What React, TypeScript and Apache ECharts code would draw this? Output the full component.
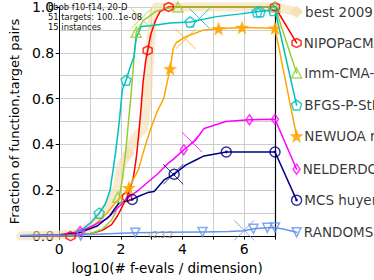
import React, { useEffect, useRef } from "react";
import * as echarts from "echarts";

type P = [number, number];

const xTickValues = [0, 2, 4, 6];
const yTickValues = [0.0, 0.2, 0.4, 0.6, 0.8, 1.0];

const names = ["best 2009", "NIPOPaCMA", "Imm-CMA-ES", "BFGS-P-StPt", "NEWUOA ros", "NELDERDOERR", "MCS huyer", "RANDOMSEARCH"];

// ECDF lines (x = log10(#f-evals/dim), y = fraction); last point = legend anchor
const best2009: P[] = [[-1.25, 0], [0, 0.005], [0.5, 0.01], [1.0, 0.04], [1.3, 0.08], [1.5, 0.12], [1.7, 0.16], [1.9, 0.22], [2.0, 0.3], [2.1, 0.33], [2.25, 0.36], [2.35, 0.4], [2.45, 0.43], [2.6, 0.45], [2.75, 0.47], [2.85, 0.6], [2.95, 0.8], [3.0, 0.9], [3.05, 0.97], [3.15, 1.0], [7, 1.0], [7.7, 0.979]];
const nipopacma: P[] = [[-1.25, 0], [0, 0.002], [0.5, 0.004], [1.0, 0.01], [1.4, 0.025], [1.7, 0.05], [1.9, 0.09], [2.05, 0.13], [2.2, 0.17], [2.4, 0.25], [2.5, 0.34], [2.57, 0.43], [2.65, 0.55], [2.72, 0.67], [2.8, 0.76], [2.87, 0.81], [2.97, 0.88], [3.12, 0.94], [3.27, 0.98], [3.55, 1.0], [7, 1.0], [7.7, 0.843]];
const immCma: P[] = [[-1.25, 0], [0, 0.003], [1.0, 0.01], [1.4, 0.03], [1.7, 0.07], [1.85, 0.11], [1.95, 0.17], [2.05, 0.25], [2.15, 0.36], [2.2, 0.43], [2.32, 0.6], [2.45, 0.81], [2.5, 0.89], [2.62, 0.915], [2.72, 0.94], [2.93, 0.96], [3.12, 0.98], [3.5, 0.995], [3.85, 1.0], [7, 1.0], [7.7, 0.712]];
const bfgs: P[] = [[-1.25, 0.003], [0, 0.006], [0.5, 0.015], [0.8, 0.035], [1.04, 0.06], [1.3, 0.1], [1.5, 0.14], [1.65, 0.2], [1.75, 0.29], [1.85, 0.385], [1.95, 0.5], [2.05, 0.64], [2.17, 0.68], [2.32, 0.745], [2.42, 0.78], [2.5, 0.865], [2.66, 0.915], [3.08, 0.92], [3.6, 0.93], [4.25, 0.935], [5.1, 0.958], [5.9, 0.97], [6.45, 0.98], [7, 0.987], [7.7, 0.572]];
const newuoa: P[] = [[-1.25, 0.002], [0, 0.006], [0.5, 0.012], [0.9, 0.03], [1.13, 0.047], [1.55, 0.1], [1.85, 0.15], [2.26, 0.21], [2.57, 0.29], [2.77, 0.385], [2.9, 0.44], [2.97, 0.47], [3.2, 0.55], [3.39, 0.6], [3.5, 0.67], [3.6, 0.73], [3.7, 0.82], [3.8, 0.845], [4.1, 0.87], [4.7, 0.9], [5.17, 0.905], [5.93, 0.91], [7, 0.907], [7.7, 0.436]];
const nelderdoerr: P[] = [[-1.25, 0], [0, 0.005], [0.68, 0.02], [1.0, 0.04], [1.55, 0.075], [1.95, 0.13], [2.26, 0.17], [2.57, 0.2], [3.18, 0.27], [3.55, 0.32], [3.7, 0.335], [4.04, 0.377], [4.4, 0.415], [4.7, 0.47], [5.4, 0.5], [6.17, 0.508], [7, 0.51], [7.7, 0.292]];
const mcs: P[] = [[-1.25, 0], [0, 0.004], [0.6, 0.012], [1.25, 0.045], [1.65, 0.09], [1.8, 0.12], [1.95, 0.145], [2.1, 0.15], [2.37, 0.16], [2.6, 0.175], [2.87, 0.19], [3.08, 0.195], [3.4, 0.245], [3.73, 0.27], [4.1, 0.31], [4.4, 0.33], [4.7, 0.35], [5.42, 0.367], [7, 0.367], [7.7, 0.157]];
const randomSearch: P[] = [[-1.25, 0.002], [0, 0.004], [1, 0.007], [2, 0.012], [2.47, 0.015], [3.5, 0.017], [4.65, 0.018], [5.5, 0.02], [6, 0.023], [6.3, 0.032], [6.75, 0.036], [7, 0.037], [7.3, 0.03], [7.7, 0.017]];

// marker positions
const best2009Marks: P[] = [[2.25, 0.36], [7.7, 0.979]];
const nipopacmaMarks: P[] = [[0.37, 0.0], [2.2, 0.17], [2.87, 0.81], [3.55, 1.0], [7, 1.0], [7.7, 0.843]];
const immCmaMarks: P[] = [[1.9, 0.17], [2.5, 0.89], [3.85, 1.0], [7, 1.0], [7.7, 0.712]];
const bfgsMarks: P[] = [[1.3, 0.1], [2.17, 0.68], [4.25, 0.935], [6.42, 0.978], [6.52, 0.979], [6.95, 0.985], [7.7, 0.572]];
const newuoaMarks: P[] = [[2.26, 0.21], [3.6, 0.73], [5.17, 0.905], [5.93, 0.91], [7, 0.907], [7.7, 0.436]];
const nelderdoerrMarks: P[] = [[0.68, 0.02], [4.04, 0.377], [6.17, 0.508], [7, 0.51], [7.7, 0.292]];
const mcsMarks: P[] = [[2.37, 0.16], [3.73, 0.27], [5.42, 0.367], [7, 0.367], [7.7, 0.157]];
const randomSearchMarks: P[] = [[0.7, 0.002], [2.47, 0.015], [4.65, 0.018], [6.3, 0.032], [6.75, 0.036], [7, 0.037], [7.7, 0.017]];

// median max-evaluation crosses
const crossMarks: (P | null)[] = [null, null, [2.66, 0.95], [4.55, 0.95], [4.1, 0.86], [4.31, 0.41], [3.7, 0.27], [6.0, 0.025]];

const colors = ["#f5deb3", "#ff0000", "#9acd32", "#00bfbf", "#ffa500", "#ff00ff", "#000080", "#6495ed"];
const lines = [best2009, nipopacma, immCma, bfgs, newuoa, nelderdoerr, mcs, randomSearch];
const marks = [best2009Marks, nipopacmaMarks, immCmaMarks, bfgsMarks, newuoaMarks, nelderdoerrMarks, mcsMarks, randomSearchMarks];

const HEX = "path://M0,-10L8.66,-5L8.66,5L0,10L-8.66,5L-8.66,-5Z";
const PENT = "path://M0,-10L9.51,-3.09L5.88,8.09L-5.88,8.09L-9.51,-3.09Z";
const STAR = "path://M0,-10L2.35,-3.24L9.51,-3.09L3.8,1.24L5.88,8.09L0,4L-5.88,8.09L-3.8,1.24L-9.51,-3.09L-2.35,-3.24Z";
const TRIDOWN = "path://M-10,-8.66L10,-8.66L0,8.66Z";
const CIRCDOT = "path://M10,0A10,10 0 1,1 -10,0A10,10 0 1,1 10,0ZM1.3,0A1.3,1.3 0 1,1 -1.3,0A1.3,1.3 0 1,1 1.3,0Z";
const CROSS = "path://M0,0L10,10M10,0L0,10";

const symbols: any[] = ["diamond", HEX, "triangle", PENT, STAR, "diamond", CIRCDOT, TRIDOWN];
const sizes: any[] = [[13, 13], 9, 10, 10, 10, [7, 10], 10, 9];
const filled = [true, false, false, false, true, false, false, false];

const FONT = "'DejaVu Sans', 'Liberation Sans', sans-serif";

function buildOption() {
  const series: any[] = [];
  lines.forEach((pts, i) => {
    const isBest = i === 0;
    series.push({
      type: "custom",
      name: names[i],
      coordinateSystem: "cartesian2d",
      clip: false,
      z: isBest ? 1 : 3 + i,
      silent: true,
      data: pts,
      encode: { x: 0, y: 1 },
      renderItem: (params: any, api: any) => {
        if (params.dataIndex !== 0) return null;
        return {
          type: "polyline",
          shape: { points: pts.map((p) => api.coord(p)) },
          style: {
            stroke: colors[i],
            lineWidth: isBest ? 9 : 1.5,
            fill: null,
            opacity: isBest ? 0.65 : 1,
            lineJoin: "round",
            lineCap: "round",
          },
        };
      },
    });
  });
  marks.forEach((pts, i) => {
    series.push({
      type: "scatter",
      name: names[i] + " markers",
      clip: false,
      z: i === 0 ? 2 : 20 + i,
      symbol: symbols[i],
      symbolSize: sizes[i],
      itemStyle: {
        color: filled[i] ? colors[i] : "rgba(0,0,0,0)",
        borderColor: colors[i],
        borderWidth: i === 0 ? 0 : 1.5,
      },
      data: pts.map((p, j) => ({
        value: p,
        label: j === pts.length - 1
          ? { show: true, position: "right", distance: 2, formatter: names[i], color: "#000", fontSize: 13.5, fontFamily: FONT }
          : { show: false },
      })),
      silent: true,
    });
  });
  crossMarks.forEach((p, i) => {
    if (!p) return;
    series.push({
      type: "scatter",
      name: names[i] + " cross",
      clip: false,
      z: 30,
      symbol: CROSS,
      symbolSize: 20,
      itemStyle: { color: "none", borderColor: colors[i], borderWidth: 1 },
      data: [p],
      silent: true,
    });
  });

  return {
    animation: false,
    backgroundColor: "#ffffff",
    textStyle: { fontFamily: FONT },
    grid: { left: 46, right: 99, top: 5, bottom: 39, containLabel: false },
    xAxis: {
      type: "value",
      min: 0,
      max: 7,
      interval: 1,
      name: "log10(# f-evals / dimension)",
      nameLocation: "middle",
      nameGap: 22,
      nameTextStyle: { fontSize: 13.5, fontFamily: FONT, color: "#000" },
      axisLine: { show: true, lineStyle: { color: "#000", width: 1 } },
      axisTick: { show: true, length: 3.5, lineStyle: { color: "#000" } },
      axisLabel: {
        fontSize: 14,
        fontFamily: FONT,
        color: "#000",
        margin: 6,
        formatter: (v: number) => (xTickValues.includes(v) ? String(v) : ""),
      },
      splitLine: { show: true, lineStyle: { color: "#cccccc", width: 1 } },
    },
    yAxis: [
      {
        type: "value",
        min: 0,
        max: 1,
        interval: 0.2,
        name: "Fraction of function,target pairs",
        nameLocation: "middle",
        nameGap: 27,
        nameTextStyle: { fontSize: 13, fontFamily: FONT, color: "#000" },
        axisLine: { show: true, lineStyle: { color: "#000", width: 1 } },
        axisTick: { show: true, length: 3.5, lineStyle: { color: "#000" } },
        axisLabel: {
          fontSize: 14,
          fontFamily: FONT,
          color: "#000",
          margin: 5,
          formatter: (v: number) => {
            const hit = yTickValues.find((t) => Math.abs(t - v) < 1e-9);
            return hit === undefined ? "" : hit.toFixed(1);
          },
        },
        splitLine: { show: true, lineStyle: { color: "#cccccc", width: 1 } },
        minorTick: { show: false, splitNumber: 2 },
        minorSplitLine: { show: true, lineStyle: { color: "#cccccc", width: 1 } },
      },
      {
        type: "value",
        min: 0,
        max: 1,
        position: "right",
        axisLine: { show: true, onZero: false, lineStyle: { color: "#000", width: 1.2 } },
        axisTick: { show: false },
        axisLabel: { show: false },
        splitLine: { show: false },
      },
    ],
    graphic: [
      {
        type: "text",
        left: 48,
        top: 2,
        z: 50,
        style: {
          text: "bbob f10-f14, 20-D\n51 targets: 100..1e-08\n15 instances",
          fontSize: 8.4,
          lineHeight: 10,
          fontFamily: FONT,
          fill: "#111",
        },
      },
      {
        type: "text",
        left: 148,
        top: 231,
        z: 50,
        style: { text: "v2.3.2", fontSize: 8, fontFamily: FONT, fill: "#999999" },
      },
    ],
    series,
  };
}

export default function App() {
  const ref = useRef<HTMLDivElement>(null);
  useEffect(() => {
    if (!ref.current) return;
    const chart = echarts.init(ref.current, null, { renderer: "svg" });
    chart.setOption(buildOption() as any);
    return () => chart.dispose();
  }, []);
  return (
    <div
      ref={ref}
      style={{ position: "fixed", left: 0, top: 0, width: 374, height: 280, background: "#fff" }}
    />
  );
}
